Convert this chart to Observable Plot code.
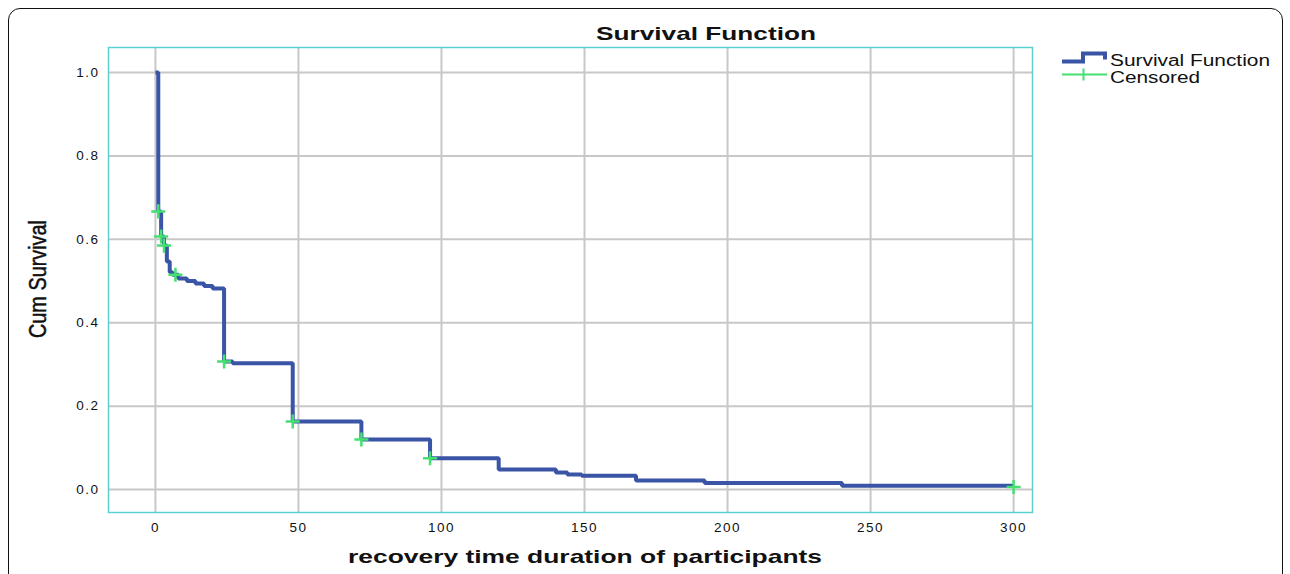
<!DOCTYPE html>
<html><head><meta charset="utf-8">
<script src="https://cdn.jsdelivr.net/npm/d3@7"></script>
<script src="https://cdn.jsdelivr.net/npm/@observablehq/plot@0.6"></script>
<style>
html,body{margin:0;padding:0;background:#fff;overflow:hidden}
#wrap{position:relative;width:1290px;height:574px;overflow:hidden;background:#fff}
#border{position:absolute;left:8px;top:8px;width:1275px;height:640px;border:1.5px solid #111;border-radius:12px;box-sizing:border-box}
#chart{position:absolute;left:0;top:0}
g[aria-label="y-axis tick label"] text, g[aria-label="x-axis tick label"] text{letter-spacing:1.5px}
</style></head><body>
<div id="wrap"><div id="border"></div><div id="chart"></div></div>
<script>
// Kaplan-Meier survival estimate (step-after)
const times    = [0, 1, 2, 3, 4, 5, 6, 8, 11, 14, 17, 20, 24, 27, 48, 72, 96, 120, 140, 144, 149, 168, 192, 240, 300];
const survival = [1.0, 0.667, 0.607, 0.585, 0.547, 0.521, 0.515, 0.506, 0.500, 0.494, 0.488, 0.482, 0.307, 0.303, 0.163, 0.120, 0.075, 0.048, 0.041, 0.036, 0.033, 0.022, 0.016, 0.009, 0.009];
// Censored observations
const censorTimes = [1, 2, 3, 7, 24, 48, 72, 96, 300];
const censorSurv  = [0.667, 0.607, 0.585, 0.515, 0.307, 0.163, 0.120, 0.075, 0.006];
// Axis ticks
const xTicks = [0, 50, 100, 150, 200, 250, 300];
const yTicks = [0, 0.2, 0.4, 0.6, 0.8, 1.0];

const curve = times.map((t, i) => ({t, s: survival[i]}));
const censored = censorTimes.map((t, i) => ({t, s: censorSurv[i]}));

const BLUE = "#3a55a6", GREEN = "#44e070";

const chart = Plot.plot({
  width: 1290, height: 574,
  marginLeft: 108, marginRight: 258, marginTop: 47, marginBottom: 62,
  style: {background: "transparent", fontFamily: "'Liberation Sans', Arial, sans-serif", color: "#111"},
  x: {domain: [-16.4, 306.6]},
  y: {domain: [-0.055, 1.06]},
  marks: [
    Plot.gridX(xTicks, {stroke: "#c8c8c8", strokeOpacity: 1, strokeWidth: 2}),
    Plot.gridY(yTicks, {stroke: "#c8c8c8", strokeOpacity: 1, strokeWidth: 2}),
    Plot.frame({stroke: "#5fd0d0", strokeWidth: 1.5}),
    Plot.axisX(xTicks, {tickSize: 0, tickPadding: 10, fontSize: 13.5, label: null}),
    Plot.axisY(yTicks, {tickSize: 0, tickPadding: 9, fontSize: 13.5, tickFormat: d3.format(".1f"), label: null}),
    Plot.line(curve, {x: "t", y: "s", curve: "step-after", stroke: BLUE, strokeWidth: 4, strokeLinejoin: "miter", strokeLinecap: "butt"}),
    Plot.dot(censored, {x: "t", y: "s", symbol: "plus", r: 4.6, stroke: GREEN, strokeWidth: 2.5})
  ]
});
document.getElementById("chart").appendChild(chart);

const svg = d3.select(chart);
const F = "'Liberation Sans', Arial, sans-serif";
svg.append("text").attr("x", 706).attr("y", 40).attr("text-anchor", "middle")
  .attr("font-family", F).attr("font-weight", "bold").attr("font-size", 19).attr("fill", "#111")
  .attr("textLength", 220).attr("lengthAdjust", "spacingAndGlyphs").text("Survival Function");
svg.append("text").attr("x", 585).attr("y", 563).attr("text-anchor", "middle")
  .attr("font-family", F).attr("font-weight", "bold").attr("font-size", 19).attr("fill", "#111")
  .attr("textLength", 474).attr("lengthAdjust", "spacingAndGlyphs").text("recovery time duration of participants");
svg.append("text").attr("transform", "translate(46,279) rotate(-90)").attr("text-anchor", "middle")
  .attr("font-family", F).attr("font-size", 23).attr("fill", "#111").attr("stroke", "#111").attr("stroke-width", 0.5)
  .attr("textLength", 118).attr("lengthAdjust", "spacingAndGlyphs").text("Cum Survival");
// legend
svg.append("path").attr("d", "M1062,61.5H1083V53.5H1105V59.5").attr("fill", "none")
  .attr("stroke", BLUE).attr("stroke-width", 4).attr("stroke-linejoin", "miter");
svg.append("path").attr("d", "M1062,74.5H1107M1083.5,68.5V80.5").attr("fill", "none")
  .attr("stroke", GREEN).attr("stroke-width", 2);
svg.append("text").attr("x", 1110).attr("y", 66).attr("text-anchor", "start").attr("font-family", F).attr("font-size", 16).attr("fill", "#111")
  .attr("textLength", 160).attr("lengthAdjust", "spacingAndGlyphs").text("Survival Function");
svg.append("text").attr("x", 1110).attr("y", 83).attr("text-anchor", "start").attr("font-family", F).attr("font-size", 16).attr("fill", "#111")
  .attr("textLength", 90).attr("lengthAdjust", "spacingAndGlyphs").text("Censored");
</script>
</body></html>
